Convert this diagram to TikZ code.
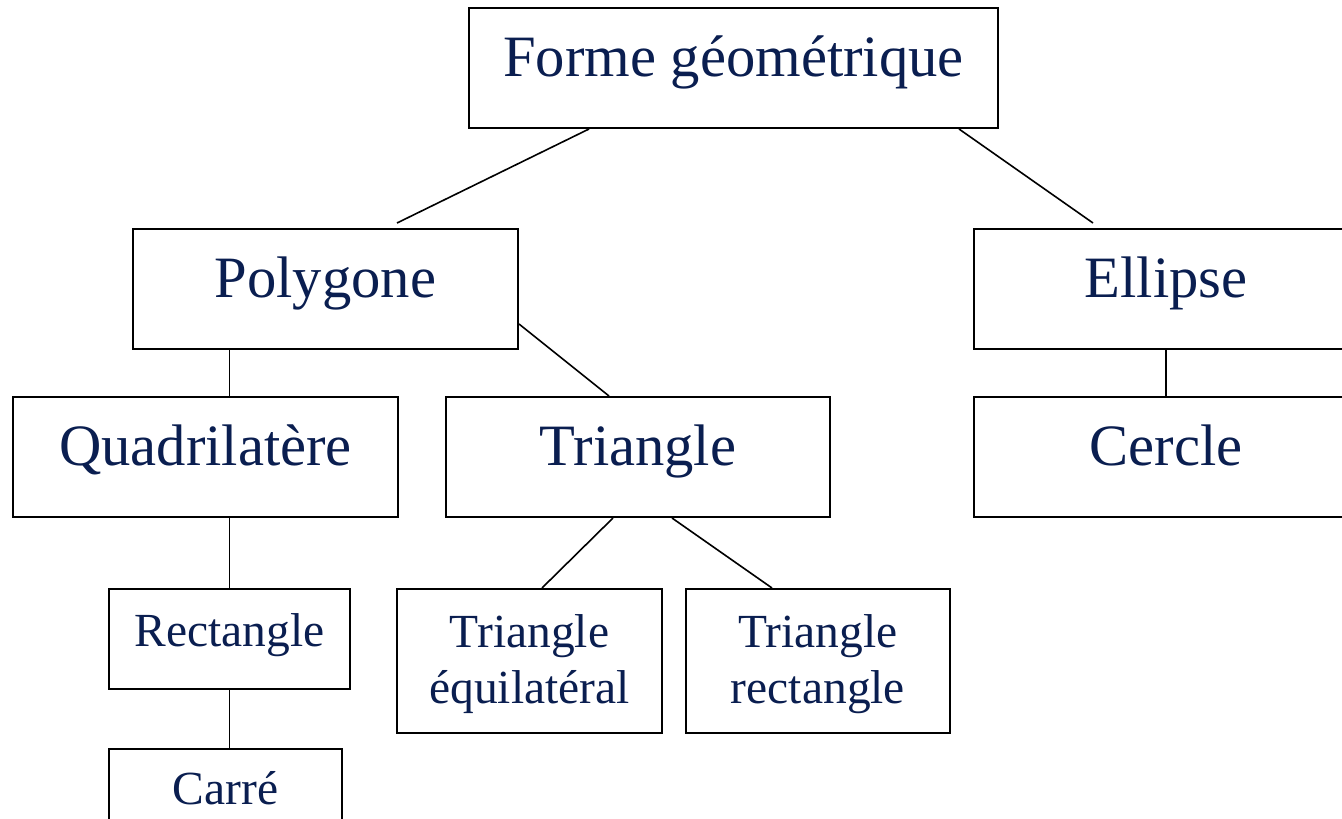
\documentclass[tikz,border=0pt]{standalone}
\usepackage{fontspec}
\setmainfont{Liberation Serif}
\usetikzlibrary{calc}
\definecolor{navy}{RGB}{10,30,80}
\tikzset{
  box/.style={draw=black, line width=2pt, fill=white, inner sep=0pt},
  big/.style={text=navy, inner sep=0pt, anchor=base, font=\fontsize{58.6}{68}\selectfont},
  small/.style={text=navy, inner sep=0pt, anchor=base, align=center, font=\fontsize{47.5}{56}\selectfont},
  link/.style={draw=black, line width=1.6pt}
}
\begin{document}
\begin{tikzpicture}[x=1pt,y=-1pt]
\useasboundingbox (0,0) rectangle (1342,819);
\clip (0,0) rectangle (1342,819);
\fill[white] (0,0) rectangle (1342,819);
% boxes
\node[box, minimum width=529pt, minimum height=120pt] (forme) at (733.5,68) {};
\node[box, minimum width=385pt, minimum height=120pt] (poly) at (325.5,289) {};
\node[box, minimum width=384pt, minimum height=120pt] (ellipse) at (1166,289) {};
\node[box, minimum width=385pt, minimum height=120pt] (quad) at (205.5,457) {};
\node[box, minimum width=384pt, minimum height=120pt] (tri) at (638,457) {};
\node[box, minimum width=384pt, minimum height=120pt] (cercle) at (1166,457) {};
\node[box, minimum width=241pt, minimum height=100pt] (rect) at (229.5,639) {};
\node[box, minimum width=265pt, minimum height=144pt] (teq) at (529.5,661) {};
\node[box, minimum width=264pt, minimum height=144pt] (trec) at (818,661) {};
\node[box, minimum width=233pt, minimum height=100pt] (carre) at (225.5,799) {};
% texts
\node[big] (tforme) at (733.5,76) {Forme géométrique};
\node[big] (tpoly) at (325.5,297) {Polygone};
\node[big] (tellipse) at (1166,297) {Ellipse};
\node[big] (tquad) at (205.5,465) {Quadrilatère};
\node[big] (ttri) at (638,465) {Triangle};
\node[big] (tcercle) at (1166,465) {Cercle};
\node[small] (trect) at (229.5,646) {Rectangle};
\node[small] (tteq) at (529.5,703) {Triangle\\équilatéral};
\node[small] (ttrec) at (818,703) {Triangle\\rectangle};
\node[small] (tcarre) at (225.5,804) {Carré};
% connectors
\draw[link] ($(forme.south west)+(121,0)$) -- ($(poly.north west)+(265,-5)$);
\draw[link] ($(forme.south west)+(491,0)$) -- ($(ellipse.north west)+(120,-5)$);
\draw[link] (poly.south -| rect.north) -- (quad.north -| rect.north);
\draw[link] ($(poly.south east)+(0,-26)$) -- ($(tri.north)+(-29,0)$);
\draw[link] (ellipse.south) -- (cercle.north);
\draw[link] (quad.south -| rect.north) -- (rect.north);
\draw[link] ($(tri.south)+(-25,0)$) -- ($(teq.north)+(12.5,0)$);
\draw[link] ($(tri.south)+(34,0)$) -- ($(trec.north)+(-46,0)$);
\draw[link] (rect.south) -- (carre.north -| rect.south);
\end{tikzpicture}
\end{document}
